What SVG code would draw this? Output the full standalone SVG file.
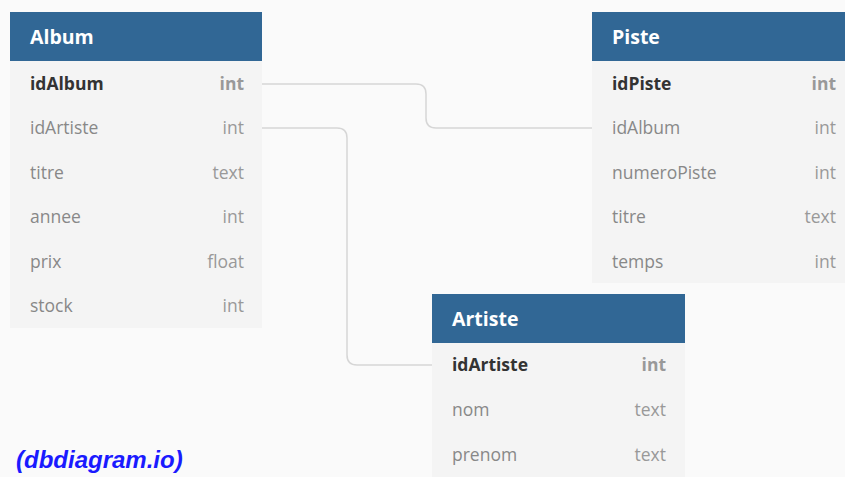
<svg xmlns="http://www.w3.org/2000/svg" width="845" height="477" viewBox="0 0 845 477">
<style>
.bg{fill:#fafafa}
.body{fill:#f4f4f4}
.hdr{fill:#316795}
.title{font-family:"Open Sans",sans-serif;font-weight:bold;font-size:19.5px;fill:#fff}
.pk{font-family:"Open Sans",sans-serif;font-weight:bold;font-size:17.5px;fill:#333}
.pkt{font-family:"Open Sans",sans-serif;font-weight:bold;font-size:17.5px;fill:#999;text-anchor:end}
.f{font-family:"Open Sans",sans-serif;font-size:17.5px;fill:#888}
.t{font-family:"Open Sans",sans-serif;font-size:17.5px;fill:#999;text-anchor:end}
.conn{fill:none;stroke:#d6d6d6;stroke-width:1.5}
.brand{font-family:"Liberation Sans",Arial,sans-serif;font-weight:bold;font-style:italic;font-size:24px;fill:#1a1aff}
</style>
<rect class="bg" x="0" y="0" width="845" height="477"/>
<g id="connectors">
<path class="conn" d="M262 84 H416 Q426 84 426 94 V118 Q426 128 436 128 H592"/>
<path class="conn" d="M262 128 H337 Q347 128 347 138 V355 Q347 365 357 365 H432"/>
</g>
<g id="album">
<rect class="body" x="10" y="12" width="252" height="316"/>
<rect class="hdr" x="10" y="12" width="252" height="49"/>
<text class="title" x="30" y="44">Album</text>
<text class="pk" x="30" y="90">idAlbum</text><text class="pkt" x="244" y="90">int</text>
<text class="f" x="30" y="134">idArtiste</text><text class="t" x="244" y="134">int</text>
<text class="f" x="30" y="179">titre</text><text class="t" x="244" y="179">text</text>
<text class="f" x="30" y="223">annee</text><text class="t" x="244" y="223">int</text>
<text class="f" x="30" y="268">prix</text><text class="t" x="244" y="268">float</text>
<text class="f" x="30" y="312">stock</text><text class="t" x="244" y="312">int</text>
</g>
<g id="piste">
<rect class="body" x="592" y="12" width="253" height="271"/>
<rect class="hdr" x="592" y="12" width="253" height="49"/>
<text class="title" x="612" y="44">Piste</text>
<text class="pk" x="612" y="90">idPiste</text><text class="pkt" x="836" y="90">int</text>
<text class="f" x="612" y="134">idAlbum</text><text class="t" x="836" y="134">int</text>
<text class="f" x="612" y="179">numeroPiste</text><text class="t" x="836" y="179">int</text>
<text class="f" x="612" y="223">titre</text><text class="t" x="836" y="223">text</text>
<text class="f" x="612" y="268">temps</text><text class="t" x="836" y="268">int</text>
</g>
<g id="artiste">
<rect class="body" x="432" y="294" width="253" height="183"/>
<rect class="hdr" x="432" y="294" width="253" height="49"/>
<text class="title" x="452" y="326">Artiste</text>
<text class="pk" x="452" y="371">idArtiste</text><text class="pkt" x="666" y="371">int</text>
<text class="f" x="452" y="416">nom</text><text class="t" x="666" y="416">text</text>
<text class="f" x="452" y="461">prenom</text><text class="t" x="666" y="461">text</text>
</g>
<text class="brand" x="16" y="468">(dbdiagram.io)</text>
</svg>
